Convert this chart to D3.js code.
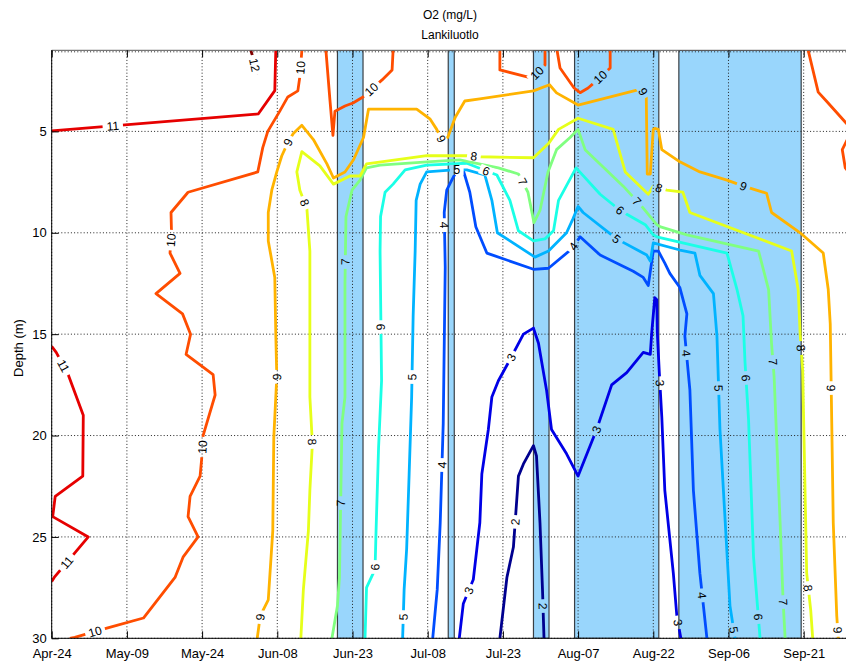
<!DOCTYPE html>
<html>
<head>
<meta charset="utf-8">
<script src="https://cdn.jsdelivr.net/npm/d3@7"></script>
<style>
  body { margin: 0; background: #fff; }
  text { font-family: "Liberation Sans", Arial, Helvetica, sans-serif; }
</style>
</head>
<body>
<svg id="chart" width="846" height="662"></svg>
<script>
// Dissolved oxygen isolines, Lankiluoto. Each point is [day of year, depth in m].
const contourLevels = [2, 3, 4, 5, 6, 7, 8, 9, 10, 11, 12];
const levelColors = ["#00008f", "#0000e6", "#004dff", "#00b3ff", "#1affe6", "#80ff80",
                     "#e6ff1a", "#ffb300", "#ff4d00", "#e60000", "#800000"];

const iso12 = [
  [[153.7, 1.0], [154.2, 1.38], [154.9, 2.2]]
];
const iso11 = [
  [[114.0, 4.97], [155.2, 4.14], [158.5, 2.99], [158.7, 1.0]],
  [[114.0, 15.6], [114.9, 15.9], [117.3, 17], [120.3, 19], [120.2, 22], [114.7, 23], [114.2, 24],
   [121.3, 25], [114.5, 27], [114.0, 27.2]]
];
const iso10 = [
  [[163.9, 1], [163.5, 2.3], [163.1, 3], [161.1, 3.3], [159.5, 4], [157.1, 5], [156.1, 5.8], [155.1, 7],
   [141.2, 8], [137.8, 9], [137.9, 10], [137.6, 11], [139.6, 12], [134.8, 13], [140.1, 14], [141.7, 15],
   [140.8, 16], [146.2, 17], [146.6, 18], [144.2, 20], [143.9, 21.2], [143.6, 22], [141.6, 23], [141.2, 24],
   [143.2, 25], [140.2, 26], [138.6, 27], [132.3, 29], [125.0, 29.5], [118.6, 29.95], [117.6, 30]],
  [[168.7, 1], [169.5, 3.45], [170.1, 5.2], [170.5, 4], [172.5, 3.75], [174.1, 3.6], [176.1, 3.3],
   [179.9, 2.46], [181.9, 1.97], [182.1, 1]],
  [[203.4, 1], [203.4, 1.97], [209.8, 2.37], [212.4, 1.72], [212.4, 1]],
  [[214.8, 1], [215.4, 1.87], [218.2, 2.86], [219.4, 3.09], [221.0, 2.86], [222.4, 2.56], [225.4, 1.87], [225.4, 1]],
  [[264.9, 1], [266.9, 3.06], [268.7, 3.55], [272.5, 4.6], [273.5, 4.85]],
  [[273.3, 5.1], [271.7, 5.9], [272.3, 6.8], [273.3, 7.1]]
];
const iso9 = [
  [[155.0, 30], [155.6, 28.9], [156.2, 28.6], [157.2, 28.1], [158.1, 24.7], [158.3, 20.1], [158.9, 17.1],
   [158.7, 15], [158.5, 12.2], [157.2, 10.4], [157.2, 9], [157.9, 7.9], [158.9, 7], [159.9, 6.2],
   [161.2, 5.5], [162.2, 5.1], [163.9, 4.7], [166.2, 5.4], [168.9, 6.6], [170.2, 7.3], [172.5, 7],
   [174.2, 6.4], [176.2, 5.3], [177.2, 3.9], [186.8, 3.9], [189.5, 4.4], [190.8, 4.9], [191.8, 5.4],
   [193.0, 5.3], [194.5, 4.3], [196.4, 3.5], [199.4, 3.4], [210.1, 3.0], [213.3, 2.7], [214.7, 3.1],
   [219.0, 3.7], [231.7, 2.9], [232.6, 3.3], [232.8, 7.1], [233.4, 7.1], [234.0, 4.9], [234.3, 4.85],
   [235.0, 4.9], [235.7, 5.9], [239.3, 6.5], [243.3, 7], [248.7, 7.4], [252.0, 7.7], [256.6, 8.05],
   [257.6, 9], [263.3, 10], [267.9, 11], [268.9, 12.8], [269.3, 14.5], [269.6, 19.4], [269.9, 24.3],
   [270.6, 28.9], [270.9, 30]]
];
const iso8 = [
  [[163.7, 30], [164.2, 27.6], [165.2, 24.7], [165.5, 22.7], [166.0, 20.4], [165.5, 18.1], [165.5, 14.1],
   [165.5, 10.9], [164.9, 8.8], [163.5, 7.9], [162.9, 7], [163.9, 6], [167.5, 6.7], [170.2, 7.6],
   [173.5, 7.2], [175.5, 7.2], [176.8, 6.6], [188.8, 6.2], [197.8, 6.2], [199.4, 6.25], [210.1, 6.3],
   [213.1, 5.6], [215.1, 4.9], [219.0, 4.35], [226.0, 4.9], [228.4, 7], [233.0, 8.1], [234.0, 7.7],
   [236.7, 7.9], [239.9, 8], [241.3, 9], [261.6, 10.9], [262.9, 12.8], [263.3, 15], [263.8, 16.8],
   [264.6, 26.8], [265.4, 28.6], [265.8, 30]]
];
const iso7 = [
  [[169.9, 30], [171.0, 28.4], [171.4, 27], [171.9, 19.4], [172.5, 18.1], [172.5, 12.5], [172.7, 9.2],
   [173.9, 7.9], [175.5, 7.4], [176.8, 6.8], [179.5, 6.66], [188.9, 6.5], [195.4, 6.4], [203.1, 6.8],
   [207.1, 7.1], [209.0, 8], [210.2, 9.5], [211.4, 8.9], [213.0, 7], [214.7, 5.9], [217.4, 5.3],
   [219.0, 4.9], [220.4, 5.9], [228.0, 7.7], [231.7, 8.7], [234.7, 9.6], [235.3, 9.7], [240.7, 10.1],
   [255.0, 10.9], [257.0, 12.8], [257.6, 15.5], [258.1, 17.1], [259.3, 24.3], [259.9, 28.2], [260.3, 30]]
];
const iso6 = [
  [[176.5, 30], [176.8, 27.5], [178.5, 26.6], [178.7, 24.7], [179.2, 20.6], [179.8, 17.3], [179.5, 10.9],
   [179.6, 9.2], [180.5, 8], [182.1, 7.6], [184.5, 6.9], [188.8, 6.66], [196.8, 6.57], [202.8, 7.15],
   [205.4, 8.4], [207.1, 9.9], [210.1, 10.4], [212.4, 10.3], [214.1, 9.9], [215.1, 8.4], [218.6, 6.8],
   [223.4, 8.1], [227.4, 8.9], [232.4, 9.6], [234.0, 10.1], [234.7, 10.2], [248.7, 11], [250.7, 12.8],
   [251.9, 14.1], [252.3, 16.4], [253.0, 19.2], [254.0, 26], [255.3, 30]]
];
const iso5 = [
  [[184.0, 30], [184.3, 27.6], [184.8, 25.6], [185.3, 21.9], [185.8, 18.1], [186.1, 14.1], [186.5, 10.9],
   [186.7, 8.4], [187.5, 7.6], [188.8, 7], [194.1, 6.9], [196.8, 6.9], [200.4, 7.15], [201.8, 8.4],
   [202.9, 10], [210.4, 11.2], [213.1, 10.9], [216.7, 10], [218.0, 9.3], [219.0, 8.7], [220.0, 9],
   [226.7, 10.3], [232.7, 11.1], [233.4, 11.4], [234.0, 10.5], [239.3, 10.85], [242.3, 11], [243.3, 12.1],
   [246.0, 13], [246.7, 15.1], [247.3, 19.7], [249.3, 28.4], [250.3, 30]]
];
const iso4 = [
  [[190.0, 30], [190.9, 27.6], [191.5, 24.3], [192.1, 19.4], [192.5, 11.7], [192.3, 9], [192.8, 7.9],
   [193.8, 7.4], [195.1, 6.8], [196.2, 7], [197.4, 8], [198.6, 9.7], [199.1, 10], [200.8, 11],
   [210.1, 11.8], [213.1, 11.75], [217.7, 10.8], [219.4, 10.2], [223.4, 11.1], [230.0, 11.9], [232.0, 12.2],
   [233.0, 12.6], [233.7, 11.4], [234.0, 10.9], [235.0, 10.9], [236.3, 11.5], [237.3, 12], [239.3, 12.7],
   [240.7, 14], [240.3, 15.1], [241.3, 17.75], [242.0, 22.7], [243.3, 26.8], [244.7, 30]]
];
const iso3 = [
  [[195.3, 30], [196.1, 28.3], [198.1, 27.1], [198.8, 25.6], [199.4, 24.3], [199.8, 21.9], [201.1, 19.7],
   [201.8, 18.1], [203.1, 17.3], [205.1, 16.4], [208.1, 15], [210.1, 14.7], [211.1, 15.45], [212.7, 17.75],
   [213.7, 19.7], [216.7, 20.9], [219.0, 22], [222.7, 19.7], [225.7, 17.5], [228.7, 16.9], [232.0, 15.9],
   [233.4, 16], [233.7, 14.9], [234.3, 13.2], [234.7, 13.3], [234.8, 14.9], [235.2, 16.9], [235.7, 19.1],
   [236.3, 22.7], [238.0, 26.8], [238.7, 28.9], [239.5, 30]]
];
const iso2 = [
  [[203.4, 30], [204.8, 27], [206.1, 25.5], [207.1, 22], [208.1, 21.4], [210.1, 20.5], [210.7, 21],
   [211.4, 24.3], [211.9, 27.6], [212.2, 30]]
];

// Inline contour labels: [level, day of year, depth]
const labelSpots = [
  [12, 154.4, 1.73],
  [11, 126.2, 4.78], [11, 116.3, 16.57], [11, 117.1, 26.28],
  [10, 164.1, 1.87], [10, 137.6, 10.36], [10, 143.6, 20.56], [10, 122.8, 29.79], [10, 177.9, 2.96],
  [10, 211.0, 2.17], [10, 223.8, 2.42],
  [9, 161.1, 5.52], [9, 155.5, 28.95], [9, 158.9, 17.11], [9, 191.7, 5.37], [9, 232.5, 2.96],
  [9, 251.9, 7.74], [9, 269.2, 17.66], [9, 270.6, 29.59],
  [8, 164.3, 8.53], [8, 165.7, 20.32], [8, 198.2, 6.26], [8, 234.9, 7.99], [8, 263.5, 15.68], [8, 264.9, 27.52],
  [7, 172.9, 11.44], [7, 171.5, 23.33], [7, 208.2, 7.45], [7, 230.4, 8.53], [7, 257.9, 16.37], [7, 259.9, 28.21],
  [6, 179.9, 14.65], [6, 178.1, 26.48], [6, 200.6, 7.0], [6, 227.4, 8.88], [6, 252.5, 17.16], [6, 254.9, 28.95],
  [5, 185.3, 17.11], [5, 183.5, 28.95], [5, 194.8, 6.9], [5, 226.8, 10.26], [5, 247.1, 17.66], [5, 249.9, 29.59],
  [4, 192.9, 9.62], [4, 191.7, 21.45], [4, 218.0, 10.65], [4, 240.9, 15.93], [4, 244.3, 27.87],
  [3, 205.6, 16.13], [3, 197.0, 27.62], [3, 222.8, 19.72], [3, 235.9, 17.41], [3, 239.3, 29.2],
  [2, 206.6, 24.26], [2, 212.2, 28.41]
];

// Shaded periods: [start day, end day]
const shadedPeriods = [[171.0, 176.1], [193.1, 194.3], [210.1, 213.2], [218.3, 235.1], [239.1, 263.5]];

const dateTickLabels = ["Apr-24", "May-09", "May-24", "Jun-08", "Jun-23", "Jul-08", "Jul-23",
                        "Aug-07", "Aug-22", "Sep-06", "Sep-21"];
const depthTicks = [5, 10, 15, 20, 25, 30];
const dayRange = [114, 273];
const depthRange = [1, 30];

const linesByLevel = {
  2: iso2, 3: iso3, 4: iso4, 5: iso5, 6: iso6, 7: iso7,
  8: iso8, 9: iso9, 10: iso10, 11: iso11, 12: iso12
};

// ---- layout ----
const margin = { left: 51.7, top: 50.3, bottom: 638.3 };
const plotRight = 848.8;
const yearStart = Date.UTC(2009, 0, 1);
const dayToDate = d => new Date(yearStart + (d - 1) * 864e5);
const parseTick = d3.utcParse("%Y-%b-%d");

const x = d3.scaleUtc().domain(dayRange.map(dayToDate)).range([margin.left, plotRight]);
const y = d3.scaleLinear().domain(depthRange).range([margin.top, margin.bottom]);
const color = d3.scaleOrdinal().domain(contourLevels).range(levelColors);

const svg = d3.select("#chart");
const W = 846, H = 662;
const defs = svg.append("defs");
defs.append("clipPath").attr("id", "plotClip")
  .append("rect").attr("x", margin.left).attr("y", margin.top)
  .attr("width", plotRight - margin.left).attr("height", margin.bottom - margin.top);

// shaded periods
svg.append("g").attr("clip-path", "url(#plotClip)")
  .selectAll("rect").data(shadedPeriods).join("rect")
  .attr("x", d => x(dayToDate(d[0])))
  .attr("width", d => x(dayToDate(d[1])) - x(dayToDate(d[0])))
  .attr("y", margin.top).attr("height", margin.bottom - margin.top)
  .attr("fill", "#99d6fc").attr("stroke", "#3a3f44").attr("stroke-width", 1.2);

// grid
const tickDates = dateTickLabels.map(s => parseTick("2009-" + s));
const grid = svg.append("g").attr("stroke", "#222").attr("stroke-dasharray", "1,2.2").attr("stroke-width", 1);
grid.selectAll("line.v").data(tickDates).join("line").attr("class", "v")
  .attr("x1", d => x(d)).attr("x2", d => x(d)).attr("y1", margin.top).attr("y2", margin.bottom);
grid.selectAll("line.h").data(depthTicks).join("line").attr("class", "h")
  .attr("x1", margin.left).attr("x2", W).attr("y1", d => y(d)).attr("y2", d => y(d));
grid.append("line").attr("x1", margin.left).attr("x2", W)
  .attr("y1", margin.top + 1.5).attr("y2", margin.top + 1.5);

// label placement: snap each spot to the nearest point on its level's isolines
const pix = p => [x(dayToDate(p[0])), y(p[1])];
const placed = labelSpots.map(([lev, day, dep]) => {
  const [px, py] = pix([day, dep]);
  let best = null;
  for (const line of linesByLevel[lev]) {
    const P = line.map(pix);
    for (let i = 0; i < P.length - 1; i++) {
      const [ax, ay] = P[i], [bx, by] = P[i + 1];
      const dx = bx - ax, dy = by - ay, L2 = dx * dx + dy * dy || 1;
      let t = ((px - ax) * dx + (py - ay) * dy) / L2;
      t = Math.max(0, Math.min(1, t));
      const qx = ax + t * dx, qy = ay + t * dy;
      const dd = (qx - px) ** 2 + (qy - py) ** 2;
      if (!best || dd < best.d) best = { d: dd, x: qx, y: qy, ang: Math.atan2(dy, dx) * 180 / Math.PI };
    }
  }
  let a = best.ang;
  while (a > 90) a -= 180;
  while (a <= -90) a += 180;
  return { lev, x: best.x, y: best.y, ang: a, text: String(lev) };
});

// mask that opens gaps in the isolines under the labels
const gapW = d => d.text.length * 6.7 + 7;
const mask = defs.append("mask").attr("id", "labelGaps").attr("maskUnits", "userSpaceOnUse")
  .attr("x", 0).attr("y", 0).attr("width", W).attr("height", H);
mask.append("rect").attr("x", 0).attr("y", 0).attr("width", W).attr("height", H).attr("fill", "#fff");
mask.selectAll("rect.gap").data(placed).join("rect").attr("class", "gap")
  .attr("x", d => -gapW(d) / 2).attr("y", -5)
  .attr("width", gapW).attr("height", 10)
  .attr("transform", d => `translate(${d.x},${d.y}) rotate(${d.ang})`)
  .attr("fill", "#000");

// isolines
const lineGen = d3.line().x(p => x(dayToDate(p[0]))).y(p => y(p[1]));
const lineLayer = svg.append("g").attr("clip-path", "url(#plotClip)")
  .append("g").attr("mask", "url(#labelGaps)");
contourLevels.forEach(lev => {
  lineLayer.selectAll(null).data(linesByLevel[lev]).join("path")
    .attr("d", lineGen).attr("fill", "none")
    .attr("stroke", color(lev)).attr("stroke-width", 2.8)
    .attr("stroke-linejoin", "round").attr("stroke-linecap", "butt");
});

// contour labels
svg.append("g").selectAll("text").data(placed).join("text")
  .attr("transform", d => `translate(${d.x},${d.y}) rotate(${d.ang})`)
  .attr("text-anchor", "middle").attr("dy", "0.36em")
  .attr("font-size", 12).attr("fill", "#000")
  .text(d => d.text);

// axes frame
const frame = svg.append("g").attr("stroke", "#000").attr("stroke-width", 1).attr("fill", "none");
frame.append("line").attr("x1", margin.left).attr("x2", margin.left).attr("y1", margin.top).attr("y2", margin.bottom);
frame.append("line").attr("x1", margin.left).attr("x2", W).attr("y1", margin.bottom).attr("y2", margin.bottom);
frame.append("line").attr("x1", margin.left).attr("x2", W).attr("y1", margin.top).attr("y2", margin.top)
  .attr("stroke", "#555");

// bottom axis
const xAxis = d3.axisBottom(x).tickValues(tickDates).tickFormat(d3.utcFormat("%b-%d")).tickSizeInner(-7).tickSizeOuter(0);
const gx = svg.append("g").attr("transform", `translate(0,${margin.bottom})`).call(xAxis);
gx.select(".domain").remove();
gx.selectAll("text").attr("font-size", 13).attr("dy", "1.05em").attr("y", 6).attr("fill", "#000");
// top ticks
const xTop = d3.axisTop(x).tickValues(tickDates).tickFormat("").tickSizeInner(-7).tickSizeOuter(0);
const gt = svg.append("g").attr("transform", `translate(0,${margin.top})`).call(xTop);
gt.select(".domain").remove();

// left axis
const yAxis = d3.axisLeft(y).tickValues(depthTicks).tickSizeInner(-7).tickSizeOuter(0).tickPadding(5);
const gy = svg.append("g").attr("transform", `translate(${margin.left},0)`).call(yAxis);
gy.select(".domain").remove();
gy.selectAll("text").attr("font-size", 13).attr("fill", "#000");

// titles
svg.append("text").attr("x", 450).attr("y", 19).attr("text-anchor", "middle").attr("font-size", 12).text("O2 (mg/L)");
svg.append("text").attr("x", 450).attr("y", 39).attr("text-anchor", "middle").attr("font-size", 12).text("Lankiluotlo");
svg.append("text").attr("transform", "translate(23,348) rotate(-90)").attr("text-anchor", "middle")
  .attr("font-size", 13).text("Depth (m)");
</script>
</body>
</html>
